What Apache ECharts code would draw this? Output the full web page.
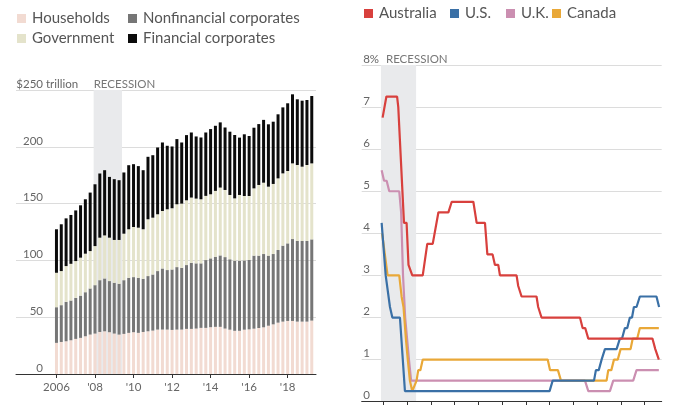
<!DOCTYPE html>
<html>
<head>
<meta charset="utf-8">
<script src="https://cdn.jsdelivr.net/npm/echarts@6/dist/echarts.min.js"></script>
<style>
html,body{margin:0;padding:0;background:#fff;}
#chart{width:678px;height:405px;}
</style>
</head>
<body>
<div id="chart"></div>
<script>
// ---------- Left chart: global debt by sector, quarterly ($ trillion) ----------
const quarters = ['2006 Q1','2006 Q2','2006 Q3','2006 Q4','2007 Q1','2007 Q2','2007 Q3','2007 Q4',
  '2008 Q1','2008 Q2','2008 Q3','2008 Q4','2009 Q1','2009 Q2','2009 Q3','2009 Q4',
  '2010 Q1','2010 Q2','2010 Q3','2010 Q4','2011 Q1','2011 Q2','2011 Q3','2011 Q4',
  '2012 Q1','2012 Q2','2012 Q3','2012 Q4','2013 Q1','2013 Q2','2013 Q3','2013 Q4',
  '2014 Q1','2014 Q2','2014 Q3','2014 Q4','2015 Q1','2015 Q2','2015 Q3','2015 Q4',
  '2016 Q1','2016 Q2','2016 Q3','2016 Q4','2017 Q1','2017 Q2','2017 Q3','2017 Q4',
  '2018 Q1','2018 Q2','2018 Q3','2018 Q4','2019 Q1','2019 Q2'];
const households = [27.4,28.2,28.8,29.7,30.9,31.8,33.2,34.7,35.6,37.0,37.6,36.8,35.6,34.7,35.3,36.2,36.8,36.2,
  37.0,37.6,38.2,39.1,39.1,39.1,38.8,39.1,39.1,39.7,39.7,40.0,40.6,40.6,41.2,41.5,41.5,40.0,
  39.0,38.0,38.0,39.0,39.3,39.9,40.5,41.1,42.5,43.7,45.2,46.1,46.7,46.7,46.1,46.1,46.1,47.0];
const nonfinancial = [31.4,32.4,34.7,35.0,36.1,37.2,38.8,40.6,42.6,45.6,46.5,45.0,44.7,44.7,47.3,48.5,48.5,48.5,
  46.8,48.6,49.4,51.5,53.8,52.4,53.2,55.0,54.4,56.2,58.2,57.4,56.8,59.7,60.6,61.7,62.9,62.9,
  62.0,61.8,61.8,61.0,61.1,64.3,63.7,64.5,61.7,61.9,64.0,66.9,68.3,72.1,71.0,71.0,71.0,71.5];
const government = [30.3,30.0,31.5,32.3,32.4,33.4,33.9,32.9,34.4,37.4,37.9,38.2,37.7,38.6,40.9,42.7,44.1,44.1,
  43.6,50.0,50.0,50.0,50.6,53.5,53.9,55.3,56.5,57.0,57.4,57.0,56.4,56.5,56.4,58.0,59.7,59.1,
  56.6,54.8,57.8,56.7,56.3,59.2,62.2,62.8,60.7,61.7,63.0,63.6,63.7,66.6,66.9,65.4,66.9,66.9];
const financial = [38.3,41.2,42.0,43.0,44.6,46.1,47.9,51.5,54.4,56.5,57.4,53.5,53.5,52.6,53.9,56.4,55.3,54.2,
  52.0,55.0,55.0,58.8,60.3,55.9,54.4,57.4,53.8,57.4,57.3,54.7,54.4,55.8,57.4,57.3,57.4,55.0,
  55.7,55.8,50.5,54.3,52.8,53.4,53.6,55.3,54.9,54.8,56.4,58.1,59.6,60.8,57.8,58.1,57.2,59.3];
const leftTicks = [2006,2008,2010,2012,2014,2016,2018];
const leftTickLabels = ['2006',"'08","'10","'12","'14","'16","'18"];
const recession = [2007.93, 2009.40];

// ---------- Right chart: policy rates (%) ----------
const australia = [[2007.97,6.75],[2008.03,6.75],[2008.13,7.25],[2008.58,7.25],[2008.63,7.0],[2008.87,4.25],
  [2008.98,4.25],[2009.06,3.25],[2009.12,3.25],[2009.22,3.0],[2009.66,3.0],[2009.85,3.75],[2010.08,3.75],
  [2010.32,4.5],[2010.74,4.5],[2010.88,4.75],[2011.79,4.75],[2011.93,4.25],[2012.28,4.25],[2012.38,3.5],
  [2012.6,3.5],[2012.7,3.25],[2012.84,3.25],[2012.91,3.0],[2013.61,3.0],[2013.68,2.75],[2013.75,2.75],
  [2013.82,2.5],[2014.45,2.5],[2014.52,2.25],[2014.59,2.25],[2014.66,2.0],[2016.28,2.0],[2016.39,1.75],
  [2016.5,1.75],[2016.63,1.5],[2019.33,1.5],[2019.45,1.25],[2019.6,1.0]];
const us = [[2007.93,4.25],[2008.1,3.0],[2008.18,3.0],[2008.28,2.25],[2008.38,2.0],[2008.7,2.0],[2008.91,0.25],
  [2015.0,0.25],[2015.13,0.5],[2016.87,0.5],[2016.95,0.75],[2017.07,0.75],[2017.19,1.0],[2017.26,1.0],
  [2017.33,1.25],[2017.82,1.25],[2017.96,1.5],[2018.05,1.5],[2018.17,1.75],[2018.27,1.75],[2018.38,2.0],
  [2018.47,2.0],[2018.55,2.25],[2018.66,2.25],[2018.8,2.5],[2019.5,2.5],[2019.61,2.25]];
const uk = [[2007.93,5.5],[2008.03,5.25],[2008.14,5.25],[2008.25,5.0],[2008.67,5.0],[2008.75,4.5],[2008.83,3.0],
  [2008.92,2.0],[2009.0,1.5],[2009.08,1.0],[2009.17,0.5],[2016.49,0.5],[2016.63,0.25],[2017.54,0.25],
  [2017.68,0.5],[2018.52,0.5],[2018.66,0.75],[2019.6,0.75]];
const canada = [[2007.95,4.0],[2008.02,4.0],[2008.18,3.0],[2008.67,3.0],[2008.77,2.5],[2008.85,2.25],[2008.95,1.5],
  [2009.03,1.0],[2009.12,0.5],[2009.22,0.25],[2009.27,0.25],[2009.4,0.5],[2009.47,0.75],[2009.56,0.75],
  [2009.66,1.0],[2014.92,1.0],[2015.02,0.75],[2015.35,0.75],[2015.48,0.5],[2017.4,0.5],[2017.47,0.75],
  [2017.6,0.75],[2017.71,1.0],[2017.87,1.0],[2017.99,1.25],[2018.41,1.25],[2018.5,1.5],[2018.69,1.5],
  [2018.8,1.75],[2019.6,1.75]];
const rightTicks = [2008,2009,2010,2011,2012,2013,2014,2015,2016,2017,2018,2019];
const recessionR = [2007.90, 2009.38];

const FONT = 'Lato';
const barColors = {households:'#f2dbd2', nonfin:'#767676', gov:'#e4e3cb', fin:'#0b0b0b'};
const lineColors = {aus:'#d8403d', us:'#3a70a6', uk:'#cb8fb1', can:'#e9a838'};

function legendItem(name, left, top){
  return {data:[name], left:left, top:top, padding:0, itemWidth:9, itemHeight:9, icon:'rect',
    itemGap:0, selectedMode:false,
    textStyle:{fontFamily:FONT, fontSize:15, color:'#555', padding:[0,0,0,1]}};
}

// Left chart geometry: value axis spans the full frame, bars sit in an aligned category grid.
const LEFT = {left:16, width:300, top:90, height:284, min:2003.9, max:2019.47};
const pxPerYear = LEFT.width / (LEFT.max - LEFT.min);
const barGridLeft = LEFT.left + (2006 - LEFT.min) * pxPerYear - pxPerYear / 8;
const barGridWidth = quarters.length * pxPerYear / 4;

function barSeries(name, data, color){
  return {name:name, type:'bar', stack:'debt', xAxisIndex:2, yAxisIndex:2, barWidth:3, z:2,
    itemStyle:{color:color}, data:data};
}
function lineSeries(name, data, color, z){
  return {name:name, type:'line', xAxisIndex:1, yAxisIndex:1, showSymbol:false, z:z,
    itemStyle:{color:color}, lineStyle:{color:color, width:2.2}, data:data};
}

const chart = echarts.init(document.getElementById('chart'), null, {renderer:'canvas'});
const option = {
  animation:false,
  backgroundColor:'#fff',
  textStyle:{fontFamily:FONT},
  legend:[
    legendItem('Households',17,11),
    legendItem('Nonfinancial corporates',128,11),
    legendItem('Government',17,31),
    legendItem('Financial corporates',128,31),
    legendItem('Australia',364,6),
    legendItem('U.S.',450,6),
    legendItem('U.K.',506,6),
    legendItem('Canada',552,6)
  ],
  grid:[
    {left:LEFT.left, width:LEFT.width, top:LEFT.top, height:LEFT.height},
    {left:361.7, width:300, top:65, height:336.7},
    {left:barGridLeft, width:barGridWidth, top:LEFT.top, height:LEFT.height}
  ],
  xAxis:[
    {type:'value', gridIndex:0, min:LEFT.min, max:LEFT.max, z:5,
      splitLine:{show:false},
      axisLine:{show:true, lineStyle:{color:'#333', width:1}},
      axisTick:{show:true, customValues:leftTicks, length:4, lineStyle:{color:'#333'}},
      axisLabel:{show:true, customValues:leftTicks, margin:7, fontSize:11.5, color:'#666', fontFamily:FONT,
        formatter:function(v){ const i = leftTicks.indexOf(v); return i>=0 ? leftTickLabels[i] : ''; }}
    },
    {type:'value', gridIndex:1, min:2007.09, max:2019.72, z:5,
      splitLine:{show:false},
      axisLine:{show:true, lineStyle:{color:'#333', width:1}},
      axisTick:{show:true, customValues:rightTicks, length:4, lineStyle:{color:'#333'}},
      axisLabel:{show:false}
    },
    {type:'category', gridIndex:2, data:quarters, boundaryGap:true, show:false}
  ],
  yAxis:[
    {type:'value', gridIndex:0, min:0, max:250, interval:50,
      axisLine:{show:false}, axisTick:{show:false},
      splitLine:{show:true, lineStyle:{color:'#dcdcdc', width:1}},
      axisLabel:{inside:true, margin:27, align:'right', verticalAlign:'bottom', fontSize:11.5,
        color:'#666', fontFamily:FONT,
        formatter:function(v){ return v===250 ? '$250' : String(v); }}
    },
    {type:'value', gridIndex:1, min:0, max:8, interval:1,
      axisLine:{show:false}, axisTick:{show:false},
      splitLine:{show:true, lineStyle:{color:'#dcdcdc', width:1}},
      axisLabel:{inside:true, margin:1.5, align:'left', verticalAlign:'bottom', fontSize:11.5,
        color:'#666', fontFamily:FONT,
        formatter:function(v){ return v===8 ? '8%' : String(v); }}
    },
    {type:'value', gridIndex:2, min:0, max:250, show:false, splitLine:{show:false}}
  ],
  graphic:[
    {type:'text', left:46, top:78, silent:true,
      style:{text:'trillion', font:'11.5px Lato', fill:'#666'}}
  ],
  series:[
    {name:'recession-left', type:'line', xAxisIndex:0, yAxisIndex:0, data:[], z:1, silent:true,
      markArea:{silent:true, itemStyle:{color:'#e9eaec'},
        label:{show:true, position:[0,-12], color:'#777', fontSize:11.5, fontFamily:FONT},
        data:[[{name:'RECESSION', xAxis:recession[0], yAxis:0},{xAxis:recession[1], yAxis:250}]]}},
    barSeries('Households', households, barColors.households),
    barSeries('Nonfinancial corporates', nonfinancial, barColors.nonfin),
    barSeries('Government', government, barColors.gov),
    barSeries('Financial corporates', financial, barColors.fin),
    {name:'recession-right', type:'line', xAxisIndex:1, yAxisIndex:1, data:[], z:1, silent:true,
      markArea:{silent:true, itemStyle:{color:'#e9eaec'},
        label:{show:true, position:[5,-12], color:'#777', fontSize:11.5, fontFamily:FONT},
        data:[[{name:'RECESSION', xAxis:recessionR[0], yAxis:0},{xAxis:recessionR[1], yAxis:8}]]}},
    lineSeries('U.K.', uk, lineColors.uk, 2),
    lineSeries('Canada', canada, lineColors.can, 3),
    lineSeries('U.S.', us, lineColors.us, 4),
    lineSeries('Australia', australia, lineColors.aus, 5)
  ]
};
chart.setOption(option);
</script>
</body>
</html>
